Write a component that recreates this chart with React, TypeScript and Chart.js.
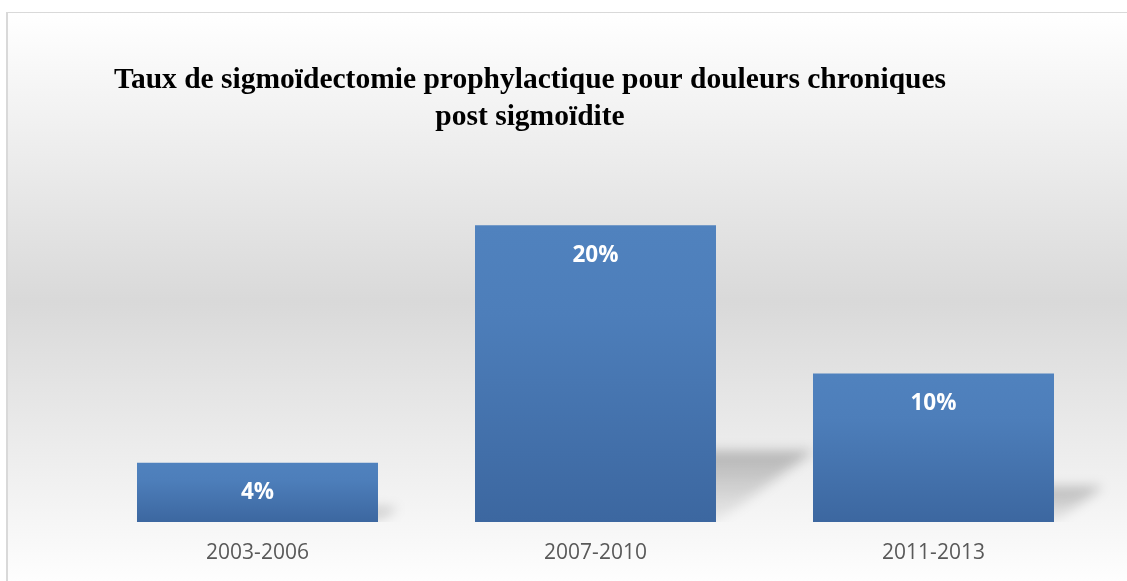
import React, { useEffect, useRef } from "react";
import { Chart, registerables } from "chart.js";

Chart.register(...registerables);

const categories = ["2003-2006", "2007-2010", "2011-2013"];
const rates = [4, 20, 10];
const valueLabels = ["4%", "20%", "10%"];
const titleLines = [
  "Taux de sigmoïdectomie prophylactique pour douleurs chroniques",
  "post sigmoïdite",
];
const yMin = 0;
const yMax = 25;

const CANVAS_W = 1125;
const CANVAS_H = 578;

const backgroundPlugin = {
  id: "bgGradient",
  beforeDraw(chart: any) {
    const { ctx, width, height } = chart;
    const g = ctx.createLinearGradient(0, 0, 0, height);
    g.addColorStop(0, "#ffffff");
    g.addColorStop(0.5, "#d9d9d9");
    g.addColorStop(1, "#ffffff");
    ctx.save();
    ctx.fillStyle = g;
    ctx.fillRect(0, 0, width, height);
    ctx.restore();
  },
};

const shadowPlugin = {
  id: "barShadow",
  beforeDatasetsDraw(chart: any) {
    const { ctx, width } = chart;
    const meta = chart.getDatasetMeta(0);
    meta.data.forEach((bar: any) => {
      const { x, y, base, width: bw } = bar.getProps(["x", "y", "base", "width"], true);
      const h = base - y;
      const l = x - bw / 2;
      const r = x + bw / 2;
      const dx = 0.33 * h;
      const dy = 0.24 * h;
      ctx.save();
      ctx.beginPath();
      ctx.rect(0, 0, width, base);
      ctx.clip();
      ctx.filter = "blur(6px)";
      const g = ctx.createLinearGradient(0, base - dy, 0, base);
      g.addColorStop(0, "rgba(0,0,0,0.24)");
      g.addColorStop(1, "rgba(0,0,0,0.04)");
      ctx.fillStyle = g;
      ctx.beginPath();
      ctx.moveTo(l, base);
      ctx.lineTo(r, base);
      ctx.lineTo(r + dx, base - dy);
      ctx.lineTo(l + dx, base - dy);
      ctx.closePath();
      ctx.fill();
      ctx.restore();
    });
  },
};

const valueLabelPlugin = {
  id: "valueLabels",
  afterDatasetsDraw(chart: any) {
    const { ctx } = chart;
    const meta = chart.getDatasetMeta(0);
    ctx.save();
    ctx.font = "bold 22.5px 'Open Sans'";
    ctx.fillStyle = "#ffffff";
    ctx.textAlign = "center";
    ctx.textBaseline = "middle";
    meta.data.forEach((bar: any, i: number) => {
      const { x, y } = bar.getProps(["x", "y"], true);
      ctx.fillText(valueLabels[i], x, y + 30);
    });
    ctx.restore();
  },
};

const titlePlugin = {
  id: "customTitle",
  afterDraw(chart: any) {
    const { ctx } = chart;
    ctx.save();
    ctx.font = "bold 29.5px 'Liberation Serif'";
    ctx.fillStyle = "#000000";
    ctx.textAlign = "center";
    ctx.textBaseline = "alphabetic";
    ctx.fillText(titleLines[0], 522, 75);
    ctx.fillText(titleLines[1], 522, 112);
    ctx.restore();
  },
};

export default function App() {
  const canvasRef = useRef<HTMLCanvasElement | null>(null);

  useEffect(() => {
    if (!canvasRef.current) return;
    const chart = new Chart(canvasRef.current, {
      type: "bar",
      data: {
        labels: categories,
        datasets: [
          {
            data: rates,
            backgroundColor: (c: any) => {
              const ch = c.chart;
              const { ctx, chartArea, scales } = ch;
              if (!chartArea || c.dataIndex === undefined || !scales.y) return "#4a7ab5";
              const top = scales.y.getPixelForValue(rates[c.dataIndex]);
              const bot = scales.y.getPixelForValue(0);
              const g = ctx.createLinearGradient(0, top, 0, bot);
              g.addColorStop(0, "#5082be");
              g.addColorStop(0.3, "#4d7eba");
              g.addColorStop(1, "#3c67a0");
              return g;
            },
            borderWidth: 0,
            barPercentage: 0.713,
            categoryPercentage: 1,
          },
        ],
      },
      options: {
        responsive: false,
        animation: false,
        devicePixelRatio: 1,
        layout: {
          padding: { left: 80.5, right: 30.5, top: 138, bottom: 7 },
        },
        plugins: {
          legend: { display: false },
          title: { display: false },
          tooltip: { enabled: false },
        },
        scales: {
          x: {
            grid: { display: false, drawTicks: false },
            border: { display: false },
            ticks: {
              color: "#595959",
              padding: 18.4,
              font: { family: "'Open Sans'", size: 21 },
            },
          },
          y: {
            display: false,
            min: yMin,
            max: yMax,
          },
        },
      },
      plugins: [backgroundPlugin, shadowPlugin, valueLabelPlugin, titlePlugin],
    });
    return () => chart.destroy();
  }, []);

  return (
    <div
      style={{
        position: "fixed",
        left: 6,
        top: 12,
        width: 1140,
        height: 600,
        borderLeft: "2px solid #d9d9d9",
        borderTop: "1px solid #d9d9d9",
        background: "#ffffff",
        overflow: "hidden",
      }}
    >
      <canvas
        ref={canvasRef}
        width={CANVAS_W}
        height={CANVAS_H}
        style={{ display: "block", width: CANVAS_W, height: CANVAS_H }}
      />
    </div>
  );
}
